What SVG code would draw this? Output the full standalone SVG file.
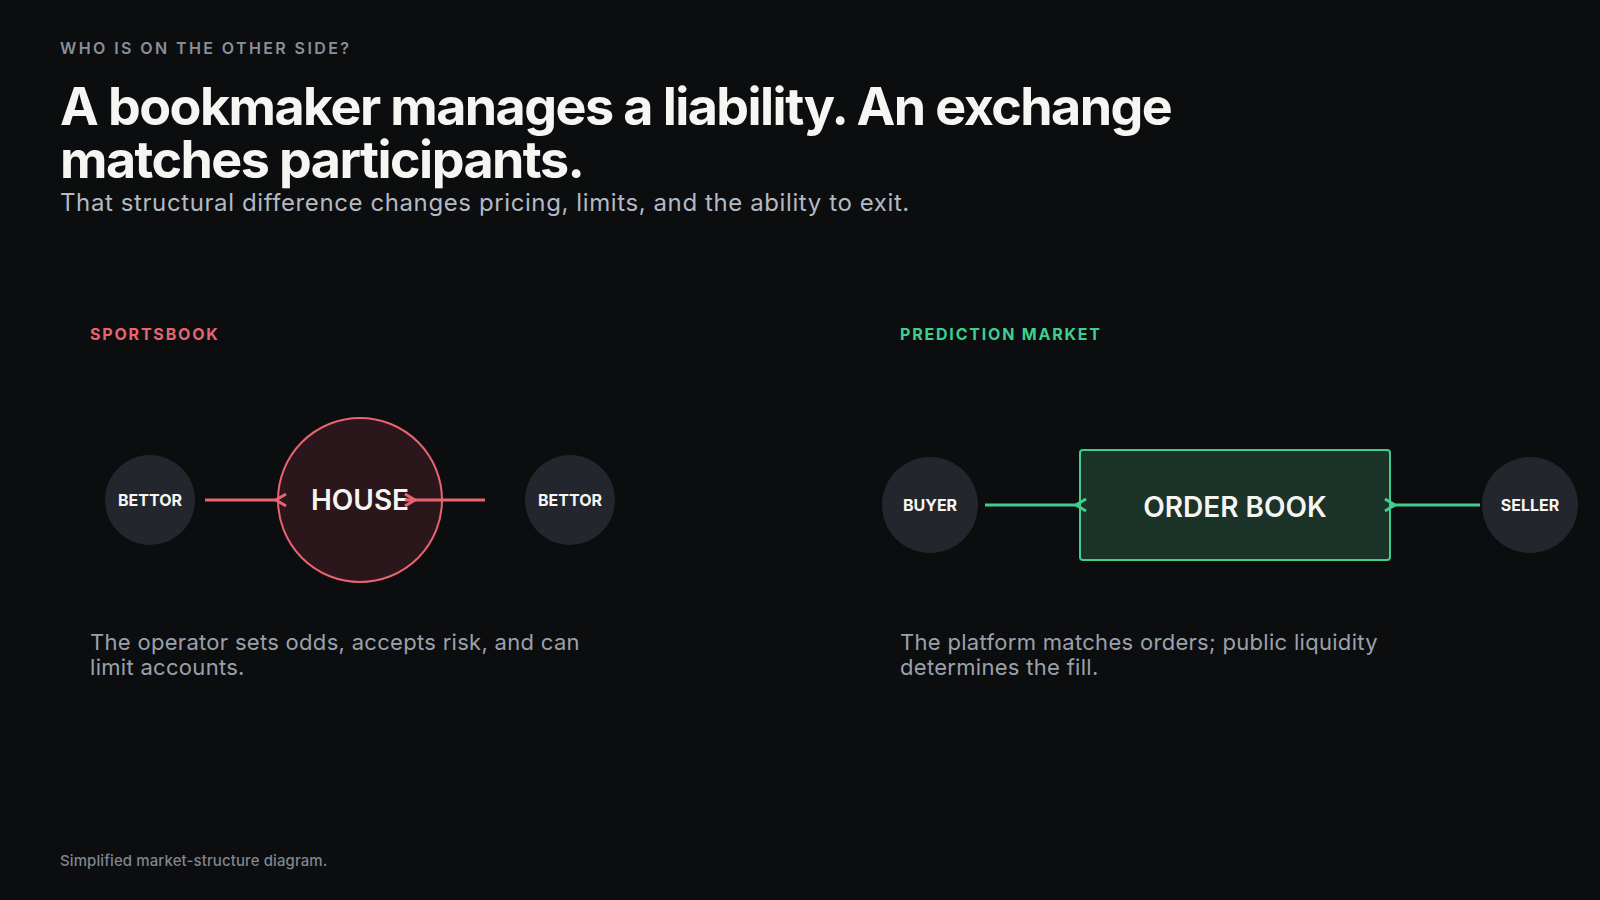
<svg xmlns="http://www.w3.org/2000/svg" width="1600" height="900" viewBox="0 0 1600 900">
<style>
text{font-family:Inter,"Noto Sans","Liberation Sans",sans-serif}
.eyebrow{font-size:16px;font-weight:600;fill:#8a9099;letter-spacing:2.4px}
.title{font-size:52px;font-weight:700;fill:#f5f5f2;letter-spacing:-0.03em}
.sub{font-size:24px;font-weight:400;fill:#b4b9c2;letter-spacing:0.6px}
.lbl{font-size:16px;font-weight:700;letter-spacing:1.8px}
.desc{font-size:22px;font-weight:400;fill:#9ba1ab;letter-spacing:0.3px}
.foot{font-size:15px;font-weight:500;fill:#7f858f;letter-spacing:0.1px}
.pnode{fill:#23262c}
.ptext{font-size:16px;font-weight:700;fill:#f5f5f2;text-anchor:middle}
.big{font-size:28px;font-weight:600;fill:#f5f5f2;text-anchor:middle}
.red{stroke:#e8646f;fill:none;stroke-width:3}
.grn{stroke:#3ecf8e;fill:none;stroke-width:3}
</style>
<rect width="1600" height="900" fill="#0b0d0f"/>
<text class="eyebrow" x="60" y="54">WHO IS ON THE OTHER SIDE?</text>
<text class="title" x="60" y="125">A bookmaker manages a liability. An exchange</text>
<text class="title" x="60" y="178">matches participants.</text>
<text class="sub" x="60" y="211">That structural difference changes pricing, limits, and the ability to exit.</text>
<text class="lbl" x="90" y="340" fill="#e8646f">SPORTSBOOK</text>
<text class="lbl" x="900" y="340" fill="#3ecf8e">PREDICTION MARKET</text>
<g id="bettor-left"><circle class="pnode" cx="150" cy="500" r="45"/><text class="ptext" x="150" y="506">BETTOR</text></g>
<g id="house"><circle cx="360" cy="500" r="82" fill="#2b171b" stroke="#e8646f" stroke-width="2"/><text class="big" x="360" y="510">HOUSE</text></g>
<g id="bettor-right"><circle class="pnode" cx="570" cy="500" r="45"/><text class="ptext" x="570" y="506">BETTOR</text></g>
<g id="buyer"><circle class="pnode" cx="930" cy="505" r="48"/><text class="ptext" x="930" y="511">BUYER</text></g>
<g id="order-book"><rect x="1080" y="450" width="310" height="110" rx="3" fill="#1b3328" stroke="#3ecf8e" stroke-width="2"/><text class="big" x="1235" y="517">ORDER BOOK</text></g>
<g id="seller"><circle class="pnode" cx="1530" cy="505" r="48"/><text class="ptext" x="1530" y="511">SELLER</text></g>
<g id="connectors">
<line class="red" x1="205" y1="500" x2="278" y2="500"/>
<path class="red" d="M286,494 L276,500 L286,506"/>
<line class="red" x1="405" y1="500" x2="485" y2="500"/>
<path class="red" d="M405,494 L415,500 L405,506"/>
<line class="grn" x1="985" y1="505" x2="1080" y2="505"/>
<path class="grn" d="M1086,499 L1076,505 L1086,511"/>
<line class="grn" x1="1390" y1="505" x2="1480" y2="505"/>
<path class="grn" d="M1385,499 L1395,505 L1385,511"/>
</g>
<text class="desc" x="90" y="650">The operator sets odds, accepts risk, and can</text>
<text class="desc" x="90" y="675">limit accounts.</text>
<text class="desc" x="900" y="650">The platform matches orders; public liquidity</text>
<text class="desc" x="900" y="675">determines the fill.</text>
<text class="foot" x="60" y="866">Simplified market-structure diagram.</text>
</svg>
